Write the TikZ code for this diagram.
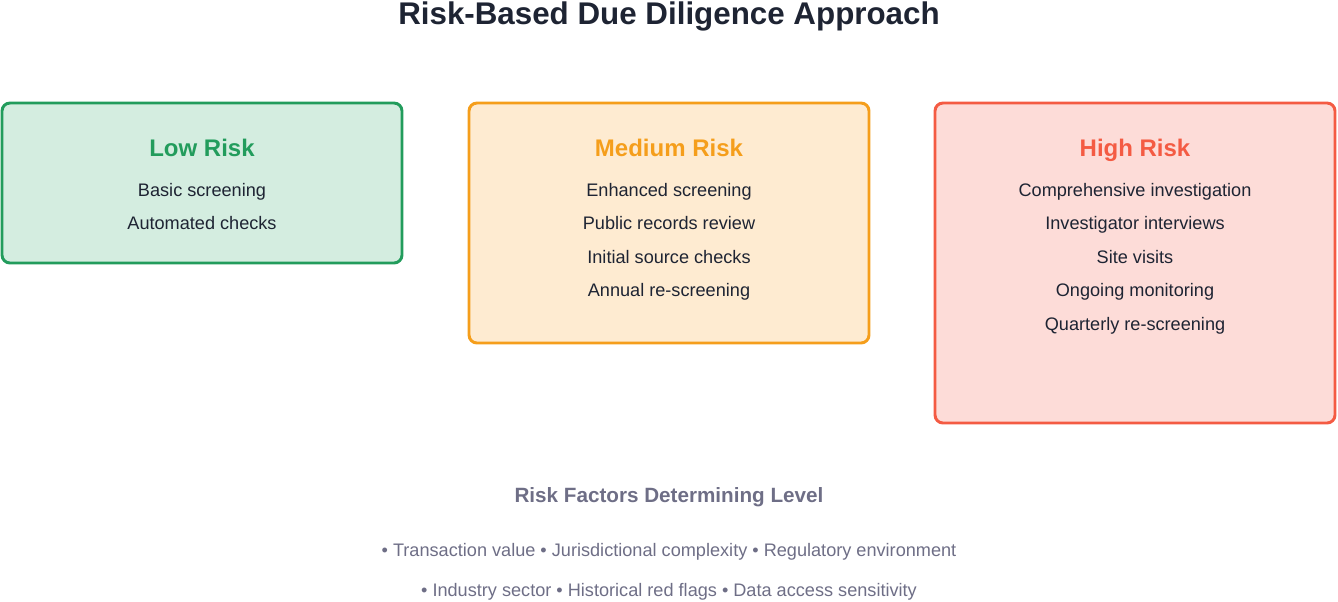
\documentclass[tikz,border=0pt]{standalone}
\usepackage{fontspec}
\setmainfont{Liberation Sans}
\usetikzlibrary{positioning}

\definecolor{lowline}{HTML}{229C5C}
\definecolor{lowfill}{HTML}{D4EDE0}
\definecolor{medline}{HTML}{F59E1B}
\definecolor{medfill}{HTML}{FEEBD1}
\definecolor{highline}{HTML}{F45B43}
\definecolor{highfill}{HTML}{FDDCD8}
\definecolor{titletext}{HTML}{1E2433}
\definecolor{factortext}{HTML}{6E6E86}

\tikzset{
  tier/.style={rounded corners=6pt, line width=2.2pt},
  tiertitle/.style={font=\bfseries\fontsize{18}{21}\selectfont, anchor=base, inner sep=0pt},
  item/.style={font=\fontsize{13.6}{16}\selectfont, text=titletext, anchor=base, inner sep=0pt},
  factor/.style={font=\fontsize{13.6}{16}\selectfont, text=factortext, anchor=base, inner sep=0pt}
}

\begin{document}
\begin{tikzpicture}[x=0.75pt, y=-0.75pt]
        \useasboundingbox (0,0) rectangle (1338,601);

        % Title
        \node [font=\bfseries\fontsize{23.5}{27}\selectfont, text=titletext, anchor=base, inner sep=0pt] (title) at (669,24) {Risk-Based Due Diligence Approach};

        % Low risk tier
        \draw [tier, draw=lowline, fill=lowfill] (2,103) rectangle (402,263);
        \node [tiertitle, text=lowline] (lowtitle) at (202,156) {Low Risk};
        \node [item] (low1) at (202,196) {Basic screening};
        \node [item] (low2) at (202,229.5) {Automated checks};

        % Medium risk tier
        \draw [tier, draw=medline, fill=medfill] (469,103) rectangle (869,343);
        \node [tiertitle, text=medline] (medtitle) at (669,156) {Medium Risk};
        \foreach \txt [count=\i] in {Enhanced screening, Public records review, Initial source checks, Annual re-screening}
            \node [item] (med\i) at (669,{162.5+33.5*\i}) {\txt};

        % High risk tier
        \draw [tier, draw=highline, fill=highfill] (935,103) rectangle (1335,423);
        \node [tiertitle, text=highline] (hightitle) at (1135,156) {High Risk};
        \foreach \txt [count=\i] in {Comprehensive investigation, Investigator interviews, Site visits, Ongoing monitoring, Quarterly re-screening}
            \node [item] (high\i) at (1135,{162.5+33.5*\i}) {\txt};

        % Risk factors
        \node [font=\bfseries\fontsize{15.5}{18}\selectfont, text=factortext, anchor=base, inner sep=0pt] (factors) at (669,502) {Risk Factors Determining Level};
        \node [factor] (factor1) at (669,556) {• Transaction value • Jurisdictional complexity • Regulatory environment};
        \node [factor] (factor2) at (669,596) {• Industry sector • Historical red flags • Data access sensitivity};
    \end{tikzpicture}
\end{document}
